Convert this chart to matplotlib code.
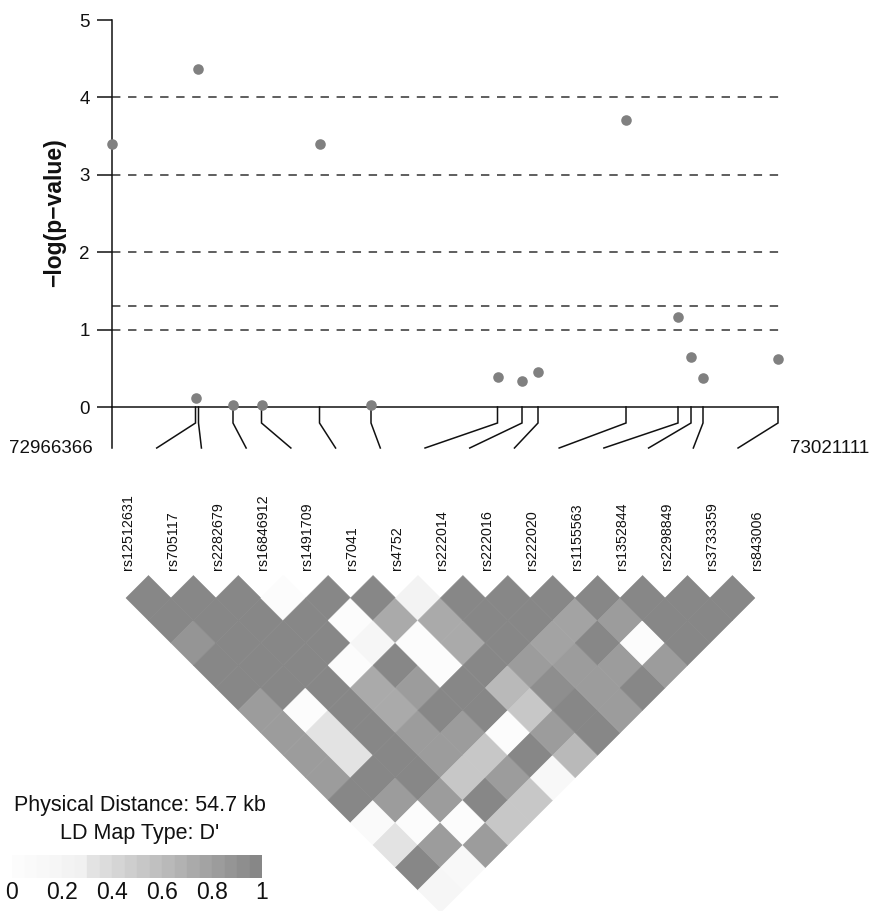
import matplotlib
matplotlib.use("Agg")
import matplotlib.pyplot as plt
from matplotlib.patches import Polygon, Rectangle

plt.rcParams['font.family'] = ['Liberation Sans', 'DejaVu Sans']

# ---------------- data ----------------
snp_names = ["rs12512631", "rs705117", "rs2282679", "rs16846912", "rs1491709",
             "rs7041", "rs4752", "rs222014", "rs222016", "rs222020",
             "rs1155563", "rs1352844", "rs2298849", "rs3733359", "rs843006"]
snp_positions = [72966366, 72973230, 72973476, 72976312, 72978655,
                 72983423, 72987656, 72998054, 73000068, 73001383,
                 73008617, 73012891, 73013960, 73014946, 73021111]
neg_log_p = [3.40, 0.115, 4.37, 0.02, 0.02,
             3.40, 0.02, 0.39, 0.34, 0.45,
             3.71, 1.16, 0.65, 0.37, 0.62]
threshold_lines = [1, 1.3, 2, 3, 4]
y_ticks = [0, 1, 2, 3, 4, 5]
region_start = 72966366
region_end = 73021111
physical_distance_kb = 54.7

# D' of SNP i with SNPs i+1 .. 14
dprime_0 = [1, 1, 0.85, 1, 1, 0.82, 0.82, 0.82, 0.82, 1, 0.05, 0.32, 0.95, 0.15]
dprime_1 = [1, 1, 1, 1, 1, 0.03, 0.32, 0.32, 1, 0.8, 0.04, 0.8, 0.12]
dprime_2 = [1, 1, 1, 1, 1, 1, 1, 1, 0.95, 0.8, 0.03, 0.8]
dprime_3 = [0.02, 1, 1, 0.02, 0.72, 0.72, 0.82, 0.8, 0.5, 0.95, 0.52]
dprime_4 = [1, 0.02, 0.15, 1, 0.82, 1, 0.8, 0.5, 0.8, 0.5]
dprime_5 = [1, 0.74, 0.03, 0.03, 1, 1, 0.03, 1, 0.12]
dprime_6 = [0.2, 0.74, 0.74, 1, 0.63, 0.5, 0.82, 0.6]
dprime_7 = [1, 1, 1, 0.8, 0.9, 1, 1]
dprime_8 = [1, 1, 0.77, 0.82, 0.82, 0.82]
dprime_9 = [1, 0.77, 1, 0.82, 1]
dprime_10 = [1, 0.82, 0.03, 0.82]
dprime_11 = [1, 1, 1]
dprime_12 = [1, 1]
dprime_13 = [1]
dprime_rows = [dprime_0, dprime_1, dprime_2, dprime_3, dprime_4, dprime_5, dprime_6,
               dprime_7, dprime_8, dprime_9, dprime_10, dprime_11, dprime_12, dprime_13]

legend_ticks = [0, 0.2, 0.4, 0.6, 0.8, 1]
legend_tick_labels = ["0", "0.2", "0.4", "0.6", "0.8", "1"]

# ---------------- helpers ----------------
W, H = 875, 911
fig = plt.figure(figsize=(W / 100, H / 100), dpi=100)


def fx(px):
    return px / W


def fy(py):
    return 1 - py / H


N_STEPS = 20


def dprime_gray(v):
    k = min(int(v * N_STEPS + 1e-9), N_STEPS - 1)
    if k < 6:
        g = 0.99 - 0.009 * k
    else:
        g = 0.89 - (k - 6) * (0.89 - 0.53) / 13
    return (g, g, g)


# ---------------- top association panel ----------------
ax = fig.add_axes([fx(112), fy(407), 666 / W, 387 / H])
ax.set_xlim(region_start, region_end)
ax.set_ylim(0, 5)
for s in ["top", "right"]:
    ax.spines[s].set_visible(False)
for s in ["left", "bottom"]:
    ax.spines[s].set_linewidth(1.1)
    ax.spines[s].set_color("#111111")
ax.set_xticks([])
ax.set_yticks(y_ticks)
ax.tick_params(axis="y", length=11, width=1.1, pad=5, labelsize=13.5, colors="#111111")

for t in threshold_lines:
    ax.plot([region_start, region_end + 0.003 * (region_end - region_start)], [t, t],
            linestyle=(0, (5.5, 5)), color="#333333", lw=1.1, clip_on=False, zorder=2)

ax.scatter(snp_positions, neg_log_p, s=58, color="#808080", linewidths=0,
           zorder=5, clip_on=False)

# connectors from genomic position to evenly spaced ticks
span = region_end - region_start
n = len(snp_positions)
spread = 0.94 * span / (n - 1)
bend = 16 / 77.4
bottom = 41 / 77.4
for i, pos in enumerate(snp_positions):
    low = region_start + i * spread
    ax.plot([pos, pos, low], [0, -bend, -bottom], color="#111111", lw=1.1,
            clip_on=False, zorder=3, solid_joinstyle="miter")

ax.annotate(str(region_start), xy=(region_start, -bottom), xytext=(-14, 0),
            textcoords="offset points", ha="right", va="center", fontsize=13.5,
            annotation_clip=False, color="#111111")
ax.annotate(str(region_end), xy=(region_end, -bottom), xytext=(8.5, 0),
            textcoords="offset points", ha="left", va="center", fontsize=13.5,
            annotation_clip=False, color="#111111")

fig.text(fx(55), fy(213), "\u2212log(p\u2212value)", rotation=90, ha="center",
         va="center", fontsize=16.5, fontweight="bold", color="#111111")

# ---------------- LD triangle ----------------
cell = 44.92
x0_px, y0_px = 126, 598
ax2 = fig.add_axes([0, 0, 1, (911 - 460) / H])
ax2.set_xlim((0 - x0_px) / cell, (W - x0_px) / cell)
ax2.set_ylim((911 - y0_px) / cell, (460 - y0_px) / cell)
ax2.axis("off")

for i, row in enumerate(dprime_rows):
    for k, val in enumerate(row):
        j = i + 1 + k
        u = (i + j) / 2
        v = (j - i - 1) / 2
        col = dprime_gray(val)
        ax2.add_patch(Polygon([(u - 0.5, v), (u, v - 0.5), (u + 0.5, v), (u, v + 0.5)],
                              closed=True, facecolor=col, edgecolor=col, lw=0.4))

label_v = (570 - y0_px) / cell
for i, name in enumerate(snp_names):
    ax2.text(i + 0.04, label_v, name, rotation=90, ha="center", va="bottom",
             fontsize=10.3, color="#111111")

# ---------------- legend ----------------
fig.text(fx(140), fy(805), "Physical Distance: %.1f kb" % physical_distance_kb,
         ha="center", va="center", fontsize=15.5, color="#111111")
fig.text(fx(140), fy(833), "LD Map Type: D'", ha="center", va="center",
         fontsize=15.5, color="#111111")

cax = fig.add_axes([fx(12), fy(878), 250 / W, 23 / H])
cax.set_xlim(0, 1)
cax.set_ylim(0, 1)
cax.axis("off")
for k in range(N_STEPS):
    c = dprime_gray((k + 0.5) / N_STEPS)
    cax.add_patch(Rectangle((k / N_STEPS, 0), 1 / N_STEPS, 1, facecolor=c,
                            edgecolor=c, lw=0.3))
for t, lab in zip(legend_ticks, legend_tick_labels):
    cax.text(t, -0.62, lab, ha="center", va="center", fontsize=16.5, color="#111111",
             clip_on=False)

fig.savefig("out.png", dpi=100)
